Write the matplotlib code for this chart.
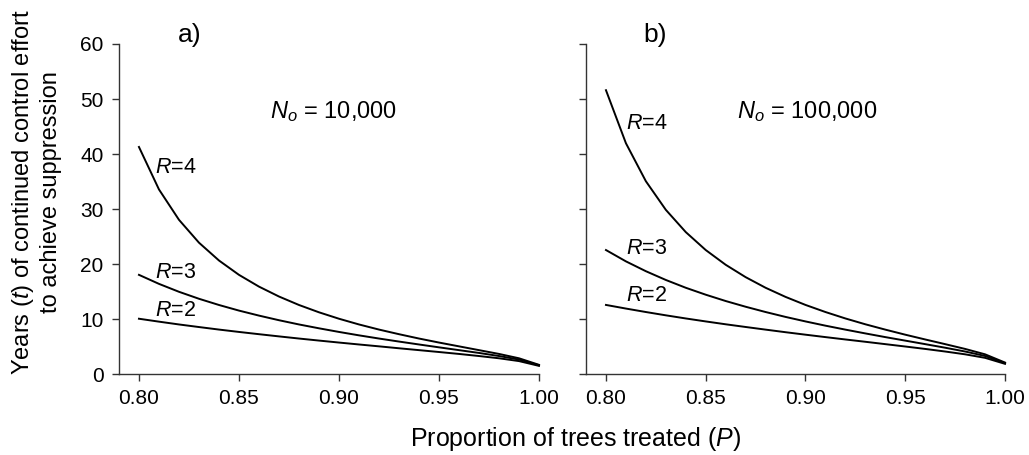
import matplotlib
matplotlib.use('Agg')
import matplotlib.pyplot as plt
import numpy as np

plt.rcParams['font.family'] = ['Liberation Sans', 'DejaVu Sans']
plt.rcParams['mathtext.fontset'] = 'custom'
plt.rcParams['mathtext.rm'] = 'Liberation Sans'
plt.rcParams['mathtext.it'] = 'Liberation Sans:italic'

# proportion treated (P); last point drawn at 1.00
p_vals = [0.80, 0.81, 0.82, 0.83, 0.84, 0.85, 0.86, 0.87, 0.88, 0.89, 0.90,
          0.91, 0.92, 0.93, 0.94, 0.95, 0.96, 0.97, 0.98, 0.99, 1.00]

# a) No = 10,000
t_a_r2 = [10.05, 9.52, 9.01, 8.54, 8.08, 7.65, 7.24, 6.84, 6.45, 6.08, 5.72,
          5.37, 5.03, 4.68, 4.34, 4.00, 3.65, 3.27, 2.86, 2.35, 1.48]
t_a_r3 = [18.03, 16.39, 14.95, 13.68, 12.55, 11.53, 10.62, 9.78, 9.01, 8.31, 7.65,
          7.03, 6.45, 5.90, 5.37, 4.85, 4.34, 3.83, 3.27, 2.63, 1.59]
t_a_r4 = [41.28, 33.56, 28.04, 23.88, 20.64, 18.03, 15.89, 14.09, 12.55, 11.22, 10.05,
          9.01, 8.08, 7.24, 6.45, 5.72, 5.03, 4.34, 3.65, 2.86, 1.67]

# b) No = 100,000
t_b_r2 = [12.56, 11.90, 11.27, 10.67, 10.10, 9.56, 9.04, 8.55, 8.07, 7.60, 7.15,
          6.71, 6.28, 5.86, 5.43, 5.00, 4.56, 4.09, 3.58, 2.94, 1.85]
t_b_r3 = [22.54, 20.48, 18.69, 17.10, 15.68, 14.42, 13.27, 12.23, 11.27, 10.38, 9.56,
          8.79, 8.07, 7.38, 6.71, 6.07, 5.43, 4.78, 4.09, 3.28, 1.98]
t_b_r4 = [51.60, 41.96, 35.05, 29.85, 25.80, 22.54, 19.86, 17.61, 15.68, 14.02, 12.56,
          11.27, 10.10, 9.04, 8.07, 7.15, 6.28, 5.43, 4.56, 3.58, 2.08]

x_ticks = [0.80, 0.85, 0.90, 0.95, 1.00]
y_ticks = [0, 10, 20, 30, 40, 50, 60]

fig = plt.figure(figsize=(10.29, 4.55), dpi=100)
ax_a = fig.add_axes([0.1156, 0.178, 0.4082, 0.7253])
ax_b = fig.add_axes([0.5695, 0.178, 0.4072, 0.7253])

panels = [
    (ax_a, [t_a_r2, t_a_r3, t_a_r4], '10,000', [(0.808, 11.6), (0.808, 18.5), (0.808, 37.6)]),
    (ax_b, [t_b_r2, t_b_r3, t_b_r4], '100,000', [(0.810, 14.2), (0.810, 22.9), (0.810, 45.6)]),
]

for ax, series, n0, lab_pos in panels:
    for ys, r, (lx, ly) in zip(series, [2, 3, 4], lab_pos):
        ax.plot(p_vals, ys, color='black', linewidth=1.4, clip_on=False)
        ax.text(lx, ly, r'$R$=%d' % r, fontsize=15.5, ha='left', va='center')
    ax.text(0.8655, 47.8, r'$N_o$ = ' + n0, fontsize=17, ha='left', va='center')
    ax.set_xlim(0.79, 1.00)
    ax.set_ylim(0, 60)
    ax.set_xticks(x_ticks)
    ax.set_xticklabels(['%.2f' % v for v in x_ticks])
    ax.set_yticks(y_ticks)
    ax.spines['top'].set_visible(False)
    ax.spines['right'].set_visible(False)
    for s in ['left', 'bottom']:
        ax.spines[s].set_linewidth(1.0)
        ax.spines[s].set_color('#333333')
    ax.tick_params(direction='out', length=5, width=1.0, color='#333333',
                   labelsize=15, pad=6)
    ax.patch.set_alpha(0)

ax_b.tick_params(labelleft=False)

fig.text(190 / 1029, 1 - 35 / 455, 'a)', fontsize=19, ha='center', va='center')
fig.text(655 / 1029, 1 - 35 / 455, 'b)', fontsize=19, ha='center', va='center')

fig.text(36 / 1029, 1 - 192 / 455,
         'Years ($\\it{t}$) of continued control effort\nto achieve suppression',
         rotation=90, fontsize=17, ha='center', va='center', multialignment='center',
         linespacing=1.2)
fig.text(576 / 1029, 1 - 439 / 455, 'Proportion of trees treated ($\\it{P}$)',
         fontsize=18, ha='center', va='center')

fig.savefig('out.png', dpi=100)
